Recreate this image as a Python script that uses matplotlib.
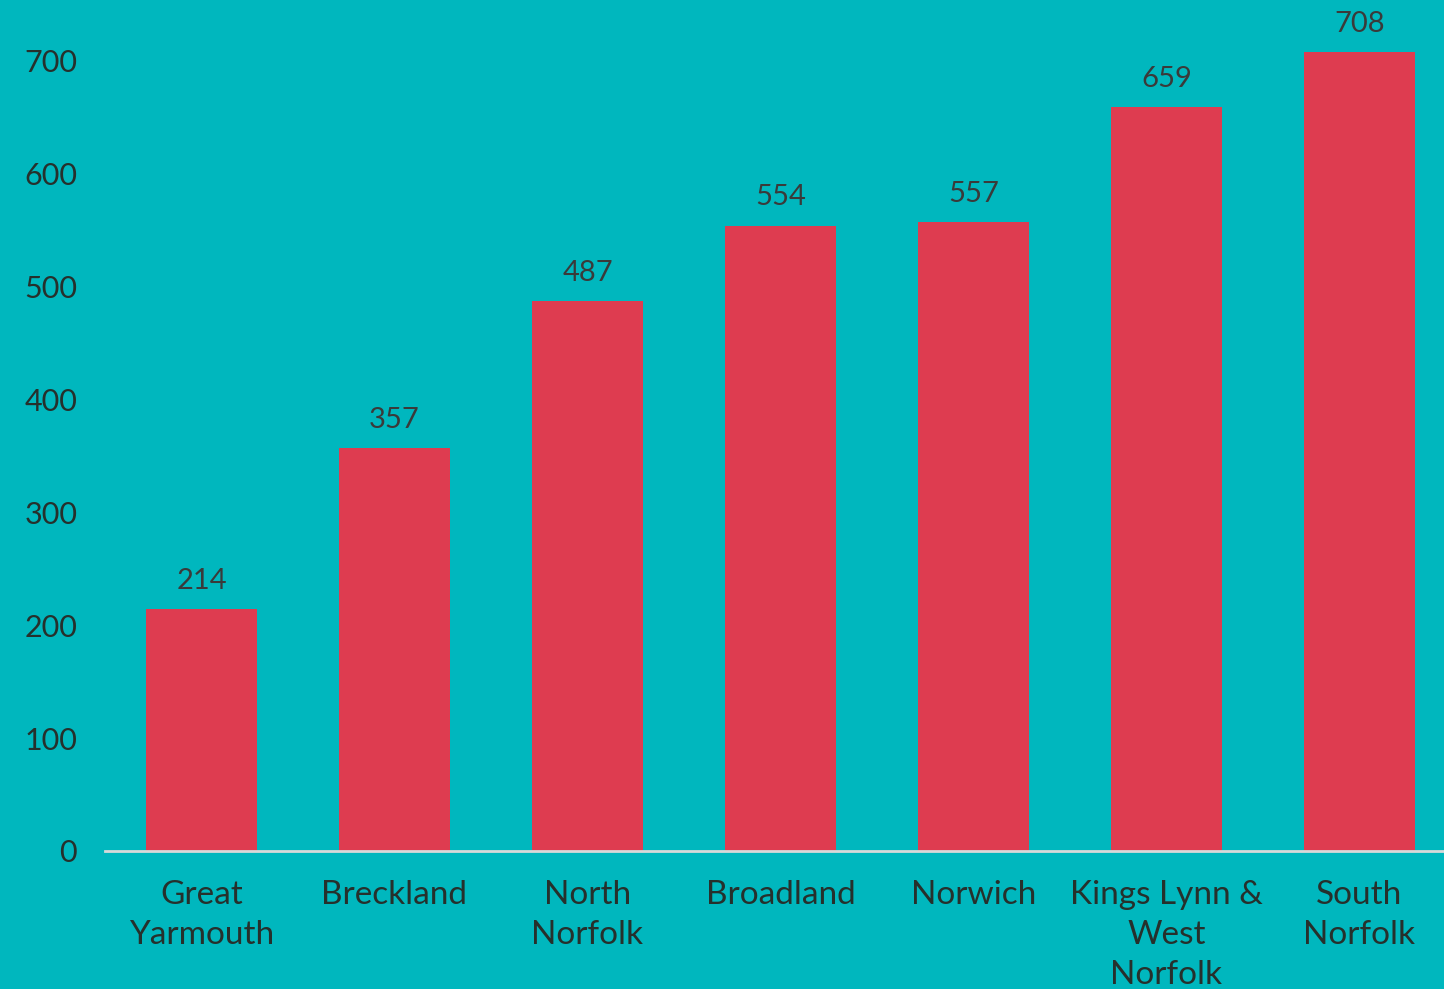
import matplotlib
matplotlib.use("Agg")
from matplotlib import pyplot as plt

# Valeurs
districts = ["Great\nYarmouth", "Breckland", "North\nNorfolk", "Broadland",
             "Norwich", "Kings Lynn &\nWest\nNorfolk", "South\nNorfolk"]
values = [214, 357, 487, 554, 557, 659, 708]
yticks = [0, 100, 200, 300, 400, 500, 600, 700]

BG = "#00B7BE"
BAR = "#DE3C50"
TXT = "#26302C"

plt.rcParams["font.family"] = ["Lato", "DejaVu Sans"]

fig = plt.figure(figsize=(14.44, 9.89), dpi=100, facecolor=BG)
ax = fig.add_axes([105 / 1444, 1 - 851 / 989, 1351 / 1444, 851 / 989])
ax.set_facecolor(BG)

x = range(len(districts))
bars = ax.bar(x, values, width=0.57, color=BAR, zorder=2)
for b, v in zip(bars, values):
  ax.annotate(str(v), (b.get_x() + b.get_width() / 2, v), xytext=(0, 11),
              textcoords="offset points", ha="center", va="bottom",
              fontsize=21, color="#3A3A3A")

ax.set_xlim(-0.5, 6.5)
ax.set_ylim(0, 851 / 1.1286)
ax.set_yticks(yticks)
ax.set_xticks(list(x))
ax.set_xticklabels(districts, fontsize=24, color=TXT, linespacing=1.42)
ax.tick_params(axis="y", length=0, pad=20, labelsize=22, labelcolor=TXT)
ax.tick_params(axis="x", length=0, pad=21)

for s in ["top", "right", "left"]:
  ax.spines[s].set_visible(False)
ax.spines["bottom"].set_color("#D9D9D9")
ax.spines["bottom"].set_linewidth(2)

fig.savefig("out.png", dpi=100, facecolor=BG)
